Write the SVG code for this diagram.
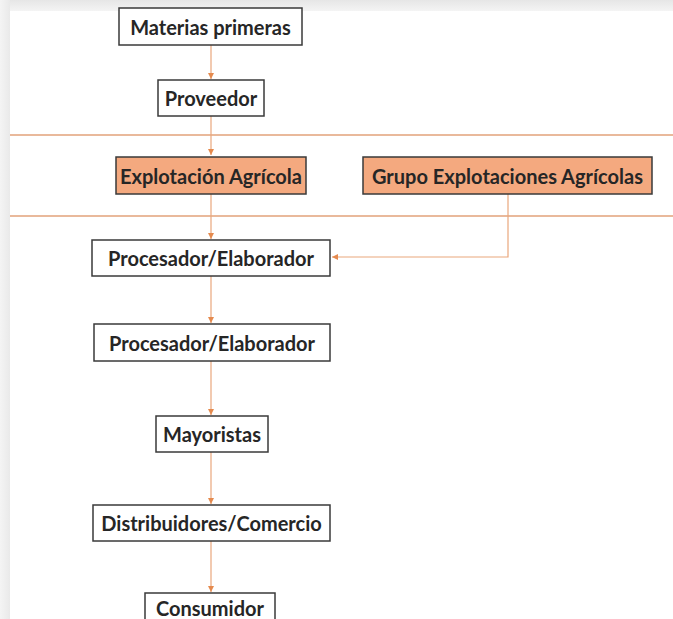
<svg xmlns="http://www.w3.org/2000/svg" width="673" height="619" viewBox="0 0 673 619">
<defs>
<linearGradient id="topg" x1="0" y1="0" x2="0" y2="1">
<stop offset="0" stop-color="#e6e6e6"/><stop offset="1" stop-color="#f4f4f4"/>
</linearGradient>
<linearGradient id="leftg" x1="0" y1="0" x2="1" y2="0">
<stop offset="0" stop-color="#f4f4f4"/><stop offset="1" stop-color="#e9e9e9"/>
</linearGradient>
<marker id="arr" viewBox="0 0 10 10" refX="10" refY="5" markerWidth="6" markerHeight="6" orient="auto" markerUnits="userSpaceOnUse">
<path d="M0,0 L10,5 L0,10 z" fill="#e58a4e"/>
</marker>
<style>
.box{fill:#ffffff;stroke:#3a3a3a;stroke-width:1.5}
.obox{fill:#f4a97f;stroke:#3a3a3a;stroke-width:1.5}
.t{font-family:Lato,"Open Sans","Liberation Sans",sans-serif;font-size:20px;fill:#262626;text-anchor:middle;dominant-baseline:central;font-weight:bold}
.c{fill:none;stroke:#eaa77c;stroke-width:1.2;marker-end:url(#arr)}
.band{stroke:#e2a27a;stroke-width:1.5}
</style>
</defs>
<rect x="0" y="0" width="673" height="619" fill="#ffffff"/>
<rect x="0" y="0" width="673" height="11" fill="url(#topg)"/>
<rect x="0" y="0" width="10" height="619" fill="url(#leftg)"/>
<rect x="10" y="11" width="663" height="608" rx="6" fill="#ffffff"/>
<line class="band" x1="10" y1="135" x2="673" y2="135"/>
<line class="band" x1="10" y1="216" x2="673" y2="216"/>
<g id="connectors">
<line class="c" x1="211" y1="45" x2="211" y2="79"/>
<line class="c" x1="211" y1="116" x2="211" y2="155"/>
<line class="c" x1="211" y1="194" x2="211" y2="239"/>
<path class="c" d="M508,194 V257 H332"/>
<line class="c" x1="211" y1="276" x2="211" y2="323"/>
<line class="c" x1="211" y1="361" x2="211" y2="415"/>
<line class="c" x1="211" y1="452" x2="211" y2="504"/>
<line class="c" x1="211" y1="541" x2="211" y2="592"/>
</g>
<g id="n1"><rect class="box" x="119" y="8" width="183" height="37"/><text class="t" x="210.5" y="27">Materias primeras</text></g>
<g id="n2"><rect class="box" x="158" y="80" width="106" height="36"/><text class="t" x="211" y="98">Proveedor</text></g>
<g id="n3"><rect class="obox" x="116" y="157" width="190" height="37"/><text class="t" x="211" y="175.5">Explotación Agrícola</text></g>
<g id="n4"><rect class="obox" x="363" y="157" width="289" height="37"/><text class="t" x="507.5" y="175.5">Grupo Explotaciones Agrícolas</text></g>
<g id="n5"><rect class="box" x="92" y="240" width="238" height="36"/><text class="t" x="211" y="258">Procesador/Elaborador</text></g>
<g id="n6"><rect class="box" x="94" y="324" width="236" height="37"/><text class="t" x="212" y="342.5">Procesador/Elaborador</text></g>
<g id="n7"><rect class="box" x="156" y="416" width="112" height="36"/><text class="t" x="212" y="434">Mayoristas</text></g>
<g id="n8"><rect class="box" x="93" y="505" width="237" height="36"/><text class="t" x="211.5" y="523">Distribuidores/Comercio</text></g>
<g id="n9"><rect class="box" x="145" y="593" width="130" height="36"/><text class="t" x="210" y="608">Consumidor</text></g>
</svg>
